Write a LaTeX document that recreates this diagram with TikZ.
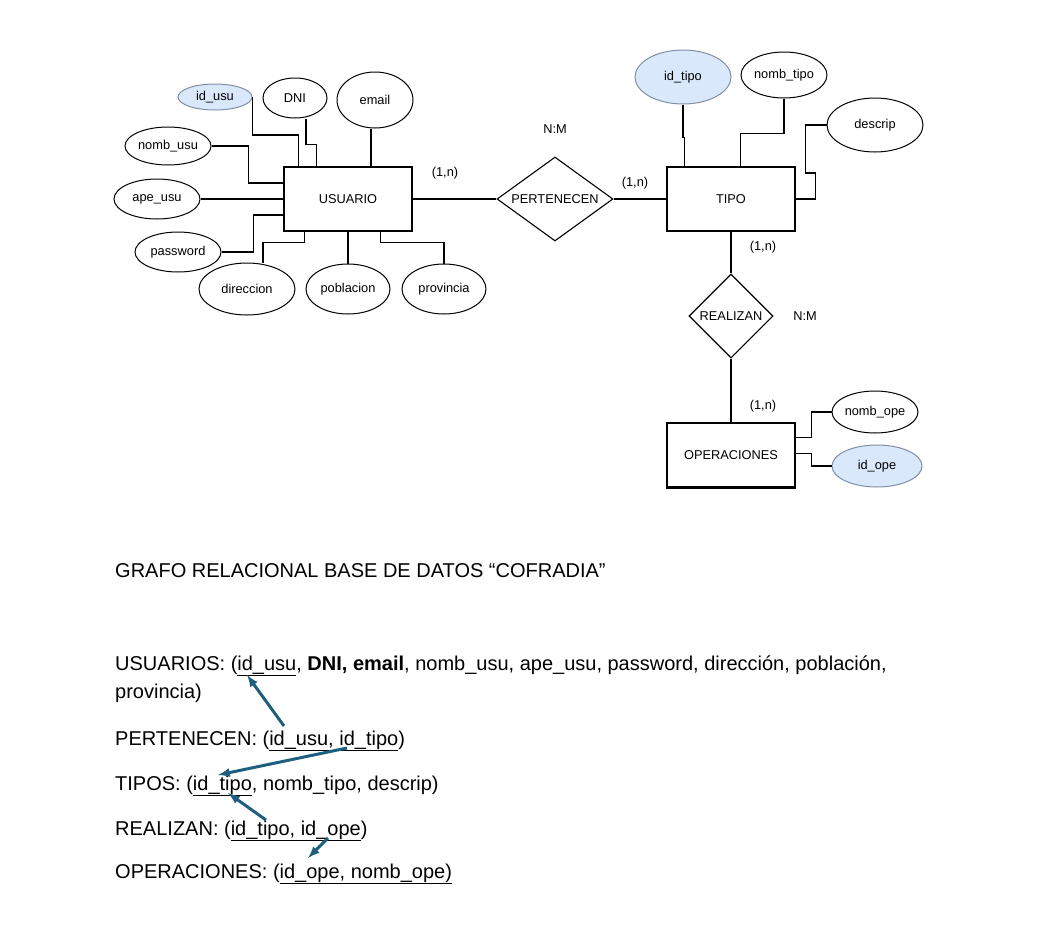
\documentclass[tikz,border=0pt]{standalone}
\usepackage{fontspec}
\setmainfont{Liberation Sans}
\usepackage{tikz}
\usetikzlibrary{shapes.geometric}
\definecolor{keyblue}{HTML}{DAE8FC}
\definecolor{keyline}{HTML}{7F8FA6}
\definecolor{arrowteal}{HTML}{1F5F7E}
\begin{document}
\begin{tikzpicture}[x=1pt,y=-1pt,
    er/.style={font=\fontsize{12.8}{14}\selectfont,inner sep=0pt},
    entidad/.style={er,draw,line width=1.1pt,minimum width=128pt,minimum height=64pt},
    atributo/.style={er,draw,ellipse,line width=1pt},
    clave/.style={atributo,fill=keyblue,draw=keyline},
    relacion/.style={er,draw,diamond,line width=1.1pt,aspect=1.38},
    cardi/.style={er},
    texto/.style={anchor=base west,inner sep=0pt,font=\fontsize{20}{24}\selectfont},
    flecha/.style={arrowteal,line width=3pt,-latex},
    enlace/.style={line width=1.1pt}
  ]
                \useasboundingbox (0,0) rectangle (1045,932);
                \node[entidad] (usuario) at (348,199) {USUARIO};
                \node[clave,minimum width=74pt,minimum height=26pt] (idusu) at (215,97) {id\_usu};
                \node[atributo,minimum width=64pt,minimum height=40pt] (dni) at (295,98) {DNI};
                \node[atributo,minimum width=76pt,minimum height=56pt] (email) at (375,100) {email};
                \node[atributo,minimum width=86pt,minimum height=38pt] (nombusu) at (168,146) {nomb\_usu};
                \node[atributo,minimum width=86pt,minimum height=40pt] (apeusu) at (157,199) {ape\_usu};
                \node[atributo,minimum width=86pt,minimum height=40pt] (password) at (178,252) {password};
                \node[atributo,minimum width=96pt,minimum height=52pt] (direccion) at (247,289) {direccion};
                \node[atributo,minimum width=84pt,minimum height=50pt] (poblacion) at (348,289) {poblacion};
                \node[atributo,minimum width=84pt,minimum height=50pt] (provincia) at (444,289) {provincia};
                \node[relacion,minimum width=116pt,minimum height=84pt] (pertenecen) at (555,199) {PERTENECEN};
                \node[entidad] (tipo) at (731,199) {TIPO};
                \node[clave,minimum width=96pt,minimum height=54pt] (idtipo) at (683,77) {id\_tipo};
                \node[atributo,minimum width=86pt,minimum height=46pt] (nombtipo) at (784,75) {nomb\_tipo};
                \node[atributo,minimum width=96pt,minimum height=54pt] (descrip) at (875,125) {descrip};
                \node[relacion,aspect=1,minimum width=84pt,minimum height=84pt] (realizan) at (731,316) {REALIZAN};
                \node[entidad] (operaciones) at (731,455) {OPERACIONES};
                \node[atributo,minimum width=86pt,minimum height=42pt] (nombope) at (875,412) {nomb\_ope};
                \node[clave,minimum width=90pt,minimum height=42pt] (idope) at (877,466) {id\_ope};
                \node[cardi] (nm1) at (555,129) {N:M};
                \node[cardi] (nm2) at (805,316) {N:M};
                \node[cardi] (card1) at (445,173) {(1,n)};
                \node[cardi] (card2) at (635,183) {(1,n)};
                \node[cardi] (card3) at (763,247) {(1,n)};
                \node[cardi] (card4) at (763,406) {(1,n)};
                \draw[enlace] (idusu.east) -- ++(0,38) -| ([xshift=15pt]usuario.north west);
                \draw[enlace] ([xshift=11pt]dni.south) -- ++(0,26) -| ([xshift=33pt]usuario.north west);
                \draw[enlace] ([xshift=-4pt]email.south) -- ([xshift=-4pt]email.south |- usuario.north);
                \draw[enlace] (nombusu.east) -- ++(37,0) |- ([yshift=16pt]usuario.west);
                \draw[enlace] (apeusu.east) -- (usuario.west);
                \draw[enlace] (password.east) -- ++(32,0) |- ([yshift=-16pt]usuario.west);
                \draw[enlace] ([xshift=21pt]usuario.south west) -- ++(0,11) -| ([xshift=16pt]direccion.north);
                \draw[enlace] (usuario.south) -- (poblacion.north);
                \draw[enlace] ([xshift=-32pt]usuario.south east) -- ++(0,11) -| (provincia.north);
                \draw[enlace] (usuario.east) -- (pertenecen.west);
                \draw[enlace] (pertenecen.east) -- (tipo.west);
                \draw[enlace] (idtipo.south) -- ++(0,33) -| ([xshift=18pt]tipo.north west);
                \draw[enlace] (nombtipo.south) -- ++(0,35) -| ([xshift=74pt]tipo.north west);
                \draw[enlace] (descrip.west) -- ++(-21,0) -- ++(0,48) -- ++(10,0) |- (tipo.east);
                \draw[enlace] (tipo.south) -- (realizan.north);
                \draw[enlace] (realizan.south) -- (operaciones.north);
                \draw[line width=2pt] (operaciones.south west) -- (operaciones.south east);
                \draw[enlace] ([yshift=-15pt]operaciones.north east) -- ++(16,0) |- (nombope.west);
                \draw[enlace] ([yshift=-31pt]operaciones.north east) -- ++(16,0) |- (idope.west);
                \node[texto] (titulo) at (115,577) {GRAFO RELACIONAL BASE DE DATOS “COFRADIA”};
                \node[texto] (tusuarios) at (115,670) {USUARIOS: (\underline{id\_usu}, \textbf{DNI, email}, nomb\_usu, ape\_usu, password, dirección, población,};
                \node[texto] (tusuarios2) at (115,698) {provincia)};
                \node[texto] (tpertenecen) at (115,745) {PERTENECEN: (\underline{id\_usu, id\_tipo})};
                \node[texto] (ttipos) at (115,790) {TIPOS: (\underline{id\_tipo}, nomb\_tipo, descrip)};
                \node[texto] (trealizan) at (115,835) {REALIZAN: (\underline{id\_tipo, id\_ope})};
                \node[texto] (toperaciones) at (115,878) {OPERACIONES: (\underline{id\_ope, nomb\_ope)}};
                \coordinate (f1a) at (284,726);
                \coordinate (f1b) at (247,675);
                \coordinate (f2a) at (347,748);
                \coordinate (f2b) at (218,775);
                \coordinate (f3a) at (266,820);
                \coordinate (f3b) at (228,793);
                \coordinate (f4a) at (328,838);
                \coordinate (f4b) at (308,858);
                \draw[flecha] (f1a) -- (f1b);
                \draw[flecha] (f2a) -- (f2b);
                \draw[flecha] (f3a) -- (f3b);
                \draw[flecha] (f4a) -- (f4b);
\end{tikzpicture}
\end{document}
